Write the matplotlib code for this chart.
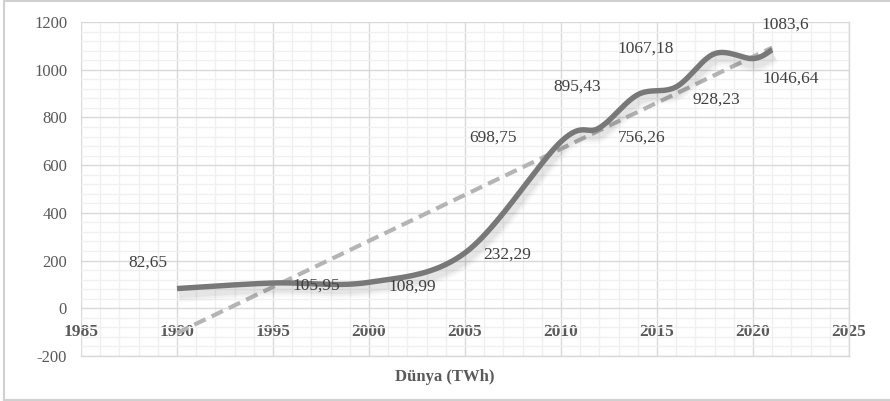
import numpy as np
import matplotlib
matplotlib.use("Agg")
import matplotlib.pyplot as plt
import matplotlib.patheffects as pe
from matplotlib.ticker import MultipleLocator
from matplotlib.lines import Line2D

# data
years = [1990, 1995, 2000, 2005, 2010, 2012, 2014, 2016, 2018, 2020, 2021]
values = [82.65, 105.95, 108.99, 232.29, 698.75, 756.26, 895.43, 928.23, 1067.18, 1046.64, 1083.6]
labels = ["82,65", "105,95", "108,99", "232,29", "698,75", "756,26",
          "895,43", "928,23", "1067,18", "1046,64", "1083,6"]
# label offsets from each point, in pixels (right, up)
label_off = [(-29, 26), (43, -3), (43, -4), (42, -2), (-68, 4), (42, -10),
             (-61, 8), (40, -13), (-69, 5), (38, -20), (13, 25)]


def smooth(xs, ys, n=40):
    # Excel-like smoothing (Catmull-Rom as Bezier)
    P = np.column_stack([xs, ys]).astype(float)
    P = np.vstack([P[0], P, P[-1]])
    out = []
    for i in range(1, len(P) - 2):
        p0, p1, p2, p3 = P[i - 1], P[i], P[i + 1], P[i + 2]
        c1 = p1 + (p2 - p0) / 6.0
        c2 = p2 - (p3 - p1) / 6.0
        t = np.linspace(0, 1, n)[:, None]
        seg = ((1 - t) ** 3) * p1 + 3 * ((1 - t) ** 2) * t * c1 + 3 * (1 - t) * t ** 2 * c2 + t ** 3 * p2
        out.append(seg if i == 1 else seg[1:])
    out = np.vstack(out)
    return out[:, 0], out[:, 1]


plt.rcParams['font.family'] = ['Liberation Serif', 'DejaVu Serif']
plt.rcParams['axes.unicode_minus'] = False

fig = plt.figure(figsize=(8.9, 4.01), dpi=100)
ax = fig.add_axes([81 / 890, 1 - 356 / 401, (849 - 81) / 890, (356 - 22) / 401])

ax.set_xlim(1985, 2025)
ax.set_ylim(-200, 1200)
ax.xaxis.set_major_locator(MultipleLocator(5))
ax.xaxis.set_minor_locator(MultipleLocator(1))
ax.yaxis.set_major_locator(MultipleLocator(200))
ax.yaxis.set_minor_locator(MultipleLocator(40))
ax.grid(which='major', color='#d9d9d9', linewidth=1.0)
ax.grid(which='minor', color='#f0f0f0', linewidth=1.0)
ax.set_axisbelow(True)

for s in ['top', 'right', 'left']:
    ax.spines[s].set_visible(False)
ax.spines['bottom'].set_position(('data', 0))
ax.spines['bottom'].set_visible(False)
ax.tick_params(which='both', length=0)
ax.tick_params(axis='x', pad=11, labelsize=12.5, labelcolor='#595959')
ax.tick_params(axis='y', pad=10, labelsize=12, labelcolor='#595959')
for lab in ax.get_xticklabels():
    lab.set_fontweight('bold')
# plot-area right border + bottom line like excel
ax.plot([1, 1], [0, 1], transform=ax.transAxes, color='#d9d9d9', lw=1, clip_on=False)
ax.plot([0, 1], [0, 0], transform=ax.transAxes, color='#d9d9d9', lw=1, clip_on=False)

# linear trend line
coef = np.polyfit(years, values, 1)
tx = np.array([years[0], years[-1]])
ax.plot(tx, np.polyval(coef, tx), color='#b4b4b4', lw=3, dashes=(3, 1.6),
        solid_capstyle='butt', zorder=3)

# smoothed main series with soft shadow
sx, sy = smooth(years, values)
shadow = [pe.SimpleLineShadow(offset=(1.5, -4), shadow_color='black', alpha=a, linewidth=w)
          for a, w in [(0.025, 12), (0.035, 9), (0.045, 6)]]
ax.plot(sx, sy, color='#787878', lw=3.9, solid_capstyle='butt', zorder=4,
        path_effects=shadow + [pe.Normal()])

for x, y, t, (dx, dy) in zip(years, values, labels, label_off):
    ax.annotate(t, (x, y), xytext=(dx * 0.72, dy * 0.72), textcoords='offset points',
                ha='center', va='center', fontsize=12.5, color='#404040', zorder=5)

fig.text(445 / 890, 1 - 377 / 401, 'Dünya (TWh)', ha='center', va='center',
         fontsize=12, fontweight='bold', color='#595959')

# outer chart border
for xs_, ys_ in [([4 / 890, 1], [1 - 1 / 401] * 2), ([4 / 890, 1], [1 - 399.5 / 401] * 2),
                 ([4 / 890] * 2, [1 - 1 / 401, 1 - 399.5 / 401])]:
    fig.add_artist(Line2D(xs_, ys_, color='#d0d0d0', lw=1.5))

fig.savefig('out.png', dpi=100)
